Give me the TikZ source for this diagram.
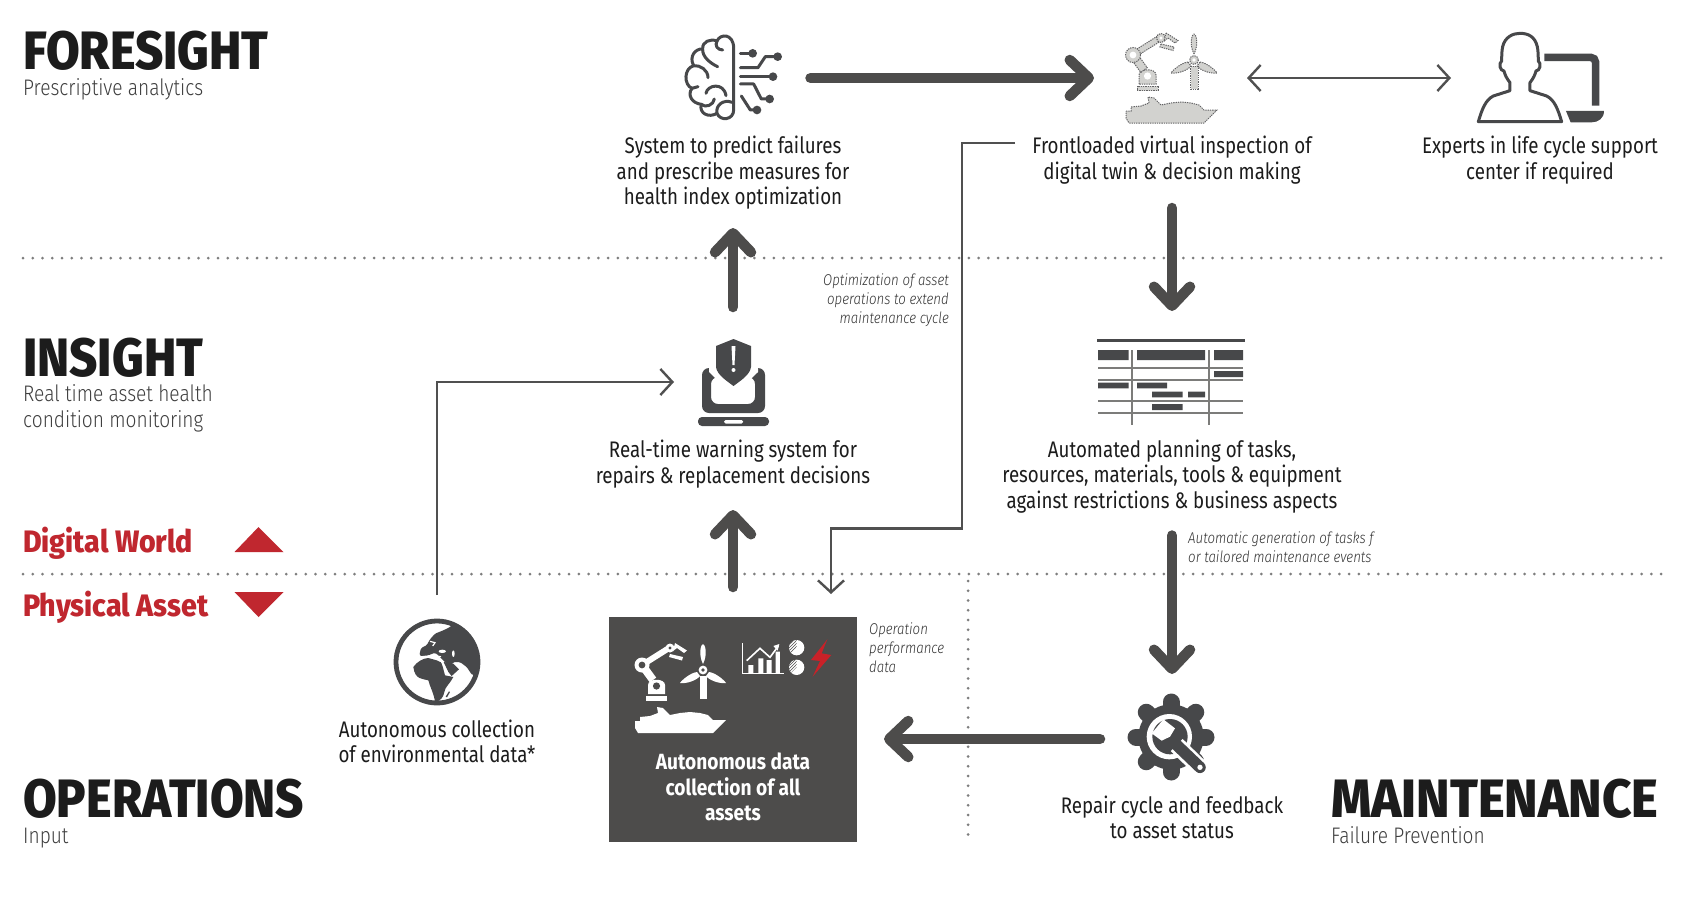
\documentclass[tikz,border=0pt]{standalone}
\usepackage{fontspec}
\setmainfont[FakeStretch=0.833]{Fira Sans}
\newfontfamily\lightface[FakeStretch=0.85,ItalicFont={Fira Sans Light Italic}]{Fira Sans Light}
\newfontfamily\headface[FakeStretch=0.905]{Fira Sans ExtraBold}
\newfontfamily\wideheadface[FakeStretch=0.945]{Fira Sans ExtraBold}
\newfontfamily\worldface[FakeStretch=0.92]{Fira Sans ExtraBold}
\newfontfamily\boxface[FakeStretch=0.87]{Fira Sans Bold}
\usetikzlibrary{arrows.meta,patterns}
\definecolor{arrowgrey}{HTML}{4D4C4B}
\definecolor{thingrey}{HTML}{505050}
\definecolor{icongrey}{HTML}{47484A}
\definecolor{boxgrey}{HTML}{4D4C4B}
\definecolor{dotgrey}{HTML}{7E7E7E}
\definecolor{ruby}{HTML}{C0272F}
\definecolor{inktext}{HTML}{1C1C1C}
\definecolor{twinfill}{HTML}{D2D2CF}
\definecolor{gridgrey}{HTML}{7C7C7A}
\tikzset{
  holder/.style n args={2}{minimum width=#1,minimum height=#2,inner sep=0pt,outer sep=0pt},
  dotrule/.style={dotgrey,line width=3pt,line cap=round,dash pattern=on 0pt off 9.75pt},
  bigarrow/.style={arrowgrey,line width=10.5pt,line cap=round,-{Straight Barb[round,length=19pt,width=36pt]}},
  thinarrow/.style={thingrey,line width=2.4pt,-{Straight Barb[length=12pt,width=26pt]}},
  thinboth/.style={thingrey,line width=2.4pt,{Straight Barb[length=12pt,width=26pt]}-{Straight Barb[length=12pt,width=26pt]}},
  body/.style={text=inktext,align=center,font=\fontsize{22.5}{25.6}\selectfont},
  head/.style={text=inktext,anchor=base west,inner sep=0pt,font=\headface\fontsize{54}{54}\selectfont},
  sub/.style={text=inktext!85,anchor=base west,inner sep=0pt,align=left,font=\lightface\fontsize{22.5}{26}\selectfont},
  worldlabel/.style={text=ruby,anchor=base west,inner sep=0pt,font=\worldface\fontsize{31}{31}\selectfont},
  note/.style={text=inktext!90,inner sep=0pt,font=\lightface\itshape\fontsize{15.6}{19}\selectfont},
  glyph/.style={icongrey,line width=3pt,line cap=round,line join=round},
  whitepart/.style={fill=white,draw=none},
  twinpart/.style={fill=twinfill,draw=icongrey!85,line width=1pt,dash pattern=on 1.3pt off 1pt},
}
\newcommand{\assetgroup}[4]{%
\begin{scope}[shift={(#1,#2)},every path/.style={#3}]
  % robot
  \path (11,53) rectangle (32,57.5);
  \path (13,51) -- (13,42) .. controls (13,35) and (30,35) .. (30,42) -- (30,51) -- cycle;
  \path (10.2,19.6) -- (21.2,34.6) -- (14.8,39.4) -- (3.8,24.4) -- cycle;
  \path (8.6,24.5) -- (35.6,7.5) -- (32.4,2.5) -- (5.4,19.5) -- cycle;
  \path (7,22) circle (7.5);
  \path (35,5) circle (4.5);
  \path (40,0) -- (52,7.5) -- (49,10) -- (42,5) -- (38,8) -- cycle;
  \path (35,11) -- (48,14) -- (47,17.5) -- (34,14) -- cycle;
  \path[fill=#4,draw=none] (21.5,43) circle (3.6);
  \path[fill=#4,draw=none] (7,22) circle (3.4);
  \path[fill=#4,draw=none] (35,5) circle (1.7);
  % turbine
  \path (68,21) .. controls (63,11) and (66,1) .. (68,1) .. controls (70,1) and (73,11) .. (68,21) -- cycle;
  \path (62,29) .. controls (55,30) and (47,37) .. (45,40) .. controls (52,41) and (62,37) .. (65,33) -- cycle;
  \path (74,29) .. controls (81,30) and (89,37) .. (91,40) .. controls (84,41) and (74,37) .. (71,33) -- cycle;
  \path (64.5,33) rectangle (72,56);
  \path (68,27) circle (4.4);
  \path[fill=#4,draw=none] (68,27) circle (1.8);
  % ship
  \path (0,78) -- (5,78) -- (5,74) -- (15,73) -- (23,70) -- (22,64) -- (28,65) -- (35,72) -- (45,70) -- (55,69) -- (65,70) -- (73,72) -- (78,77) -- (91,77) -- (78,90) -- (3,90) -- (0,85) -- cycle;
\end{scope}}
\begin{document}
\begin{tikzpicture}[x=1pt,y=-1pt]
\useasboundingbox (0,0) rectangle (1696,918);
\fill[white] (0,0) rectangle (1696,918);

% rules
\draw[dotrule] (23,258) -- (1665,258);
\draw[dotrule] (23,574) -- (1665,574);
\draw[dotrule] (968,581) -- (968,842);

% anchor holders for icons and captions
\node[holder={155}{90}] (brain) at (733,78) {};
\node[holder={156}{90}] (twin) at (1172,78) {};
\node[holder={180}{90}] (expert) at (1541,78) {};
\node[holder={118}{150}] (warn) at (733,382) {};
\node[holder={150}{142}] (gantt) at (1172,382) {};
\node[holder={144}{130}] (gear) at (1172,739) {};
\node[holder={100}{134}] (globe) at (437,662) {};

% captions
\node[body,holder={240}{110}] (systxt) at (733,173) {System to predict failures\\and prescribe measures for\\health index optimization};
\node[body,holder={314}{96}] (fronttxt) at (1172,160) {Frontloaded virtual inspection of\\digital twin \& decision making};
\node[body] (exptxt) at (1540,160) {Experts in life cycle support\\center if required};
\node[body,holder={280}{92}] (warntxt) at (733,464) {Real-time warning system for\\repairs \& replacement decisions};
\node[body,holder={350}{118}] (autotxt) at (1172,476.5) {Automated planning of tasks,\\resources, materials, tools \& equipment\\against restrictions \& business aspects};
\node[body] (envtxt) at (437,741.5) {Autonomous collection\\of environmental data*};
\node[body] (reptxt) at (1172,817.5) {Repair cycle and feedback\\to asset status};

% headings
\node[head] (hfore) at (23,69) {FORESIGHT};
\node[sub] (sfore) at (23,95) {Prescriptive analytics};
\node[head] (hins) at (23,376) {INSIGHT};
\node[sub] (sins) at (23,427.5) {Real time asset health\\condition monitoring};
\node[head] (hops) at (23,817.5) {OPERATIONS};
\node[sub] (sops) at (23,843) {Input};
\node[head,font=\wideheadface\fontsize{54}{54}\selectfont] (hmnt) at (1331,817.5) {MAINTENANCE};
\node[sub] (smnt) at (1331,843) {Failure Prevention};
\node[worldlabel] (dw) at (23,552) {Digital World};
\node[worldlabel] (pa) at (23,616) {Physical Asset};
\fill[ruby] (234.5,552) -- (258.5,527) -- (283.5,552) -- cycle;
\fill[ruby] (234.5,592) -- (258.5,617) -- (283.5,592) -- cycle;

% notes
\node[note,anchor=base east,align=right] (n1) at (949,323.5) {Optimization of asset\\operations to extend\\maintenance cycle};
\node[note,anchor=base west,align=left] (n2) at (869,672) {Operation\\performance\\data};
\node[note,anchor=base west,align=left] (n3) at (1188,562) {Automatic generation of tasks f\\or tailored maintenance events};

% dark box
\node[fill=boxgrey,holder={248}{225}] (assets) at (733,729.5) {};
\node[text=white,align=center,font=\boxface\fontsize{22}{25.6}\selectfont] (assetstxt) at (733,787) {Autonomous data\\collection of all\\assets};
\assetgroup{635}{643}{whitepart}{boxgrey}
% chart
\begin{scope}[shift={(600,600)},x=0.3333pt,y=-0.3333pt]
  \draw[white,line width=1.6pt] (428,130) -- (428,220) -- (552,220);
  \fill[white] (445,195) rectangle (460,220) (475,175) rectangle (490,220) (500,180) rectangle (515,220) (527,155) rectangle (540,220);
  \draw[white,line width=1.6pt] (440,182) -- (480,145) -- (510,172) -- (535,138);
  \fill[white] (538,132) -- (520,138) -- (533,152) -- cycle;
  \fill[white] (590,143) circle (23) (590,202) circle (23);
  \fill[pattern=north east lines,pattern color=boxgrey] (590,143) -- (590,120) arc[start angle=-90,end angle=-225,radius=23] -- cycle;
  \fill[pattern=north east lines,pattern color=boxgrey] (590,202) -- (590,179) arc[start angle=-90,end angle=-225,radius=23] -- cycle;
  \fill[ruby!85!red] (682,118) -- (633,180) -- (660,183) -- (638,230) -- (694,165) -- (665,160) -- cycle;
\end{scope}

% brain
\begin{scope}[shift={(682,25)},x=0.3333pt,y=-0.3333pt]
  \draw[glyph] (155,70) -- (155,255) .. controls (155,285) and (115,290) .. (105,265) .. controls (80,280) and (50,265) .. (58,238) .. controls (30,235) and (15,210) .. (30,190) .. controls (5,180) and (5,130) .. (35,122) .. controls (20,95) and (40,70) .. (62,72) .. controls (60,50) and (85,40) .. (105,48) .. controls (115,25) and (155,25) .. (155,70);
  \draw[glyph] (105,48) .. controls (98,60) and (105,75) .. (122,75);
  \draw[glyph] (62,72) .. controls (60,95) and (85,115) .. (107,125);
  \draw[glyph] (35,122) .. controls (55,120) and (78,135) .. (78,158);
  \draw[glyph] (30,190) -- (48,185);
  \draw[glyph] (72,205) .. controls (75,180) and (125,170) .. (132,212);
  \draw[glyph] (58,238) .. controls (70,250) and (95,240) .. (97,222);
  \draw[glyph] (105,265) .. controls (100,240) and (125,222) .. (150,232);
  \draw[glyph] (175,85) -- (212,85);
  \draw[glyph] (175,128) -- (228,128) -- (250,95) -- (287,95);
  \draw[glyph] (175,155) -- (272,155);
  \draw[glyph] (175,177) -- (215,177) -- (238,222) -- (262,222);
  \draw[glyph] (178,213) -- (205,255) -- (225,255);
  \fill[icongrey] (212,85) circle (13) (287,95) circle (13) (273,155) circle (13) (263,222) circle (13) (225,255) circle (13);
\end{scope}

% digital twin
\assetgroup{1126}{33}{twinpart}{white}

% expert
\begin{scope}[shift={(1200,0)},x=0.3333pt,y=-0.3333pt]
  \draw[glyph,line width=3pt] (835,365) .. controls (847,325) and (857,300) .. (880,288) -- (930,272) -- (930,248) .. controls (920,235) and (915,225) .. (912,213) .. controls (900,213) and (895,190) .. (905,183) .. controls (905,183) and (905,150) .. (908,140) .. controls (915,110) and (940,100) .. (960,100) .. controls (985,100) and (1005,110) .. (1012,140) .. controls (1015,150) and (1015,183) .. (1015,183) .. controls (1025,190) and (1020,213) .. (1008,213) .. controls (1005,225) and (1000,235) .. (990,248) -- (990,272) -- (1040,288) .. controls (1063,300) and (1073,325) .. (1085,365) -- cycle;
  \draw[icongrey,line width=7.6pt,rounded corners=5pt] (1033,172) -- (1187,172) -- (1187,317);
  \fill[icongrey] (1098,333) -- (1212,333) .. controls (1212,355) and (1195,367) .. (1175,367) -- (1112,367) -- cycle;
\end{scope}

% warning laptop
\fill[icongrey,rounded corners=7pt,even odd rule] (702,368) rectangle (765,413) (711,377) rectangle (755,404);
\fill[white] (709,352) -- (758,352) -- (758,372) -- (733.5,396) -- (709,372) -- cycle;
\fill[icongrey] (733.5,339) -- (751,346) -- (751,367) .. controls (750,375) and (740,381) .. (733.5,386) .. controls (727,381) and (717,375) .. (716,367) -- (716,346) -- cycle;
\fill[white] (731.5,346) -- (735.5,346) -- (734.5,365) -- (732.5,365) -- cycle;
\fill[white] (733.5,370) circle (2);
\fill[icongrey,rounded corners=4pt] (698,417) rectangle (769,426);
\fill[white,rounded corners=1.5pt] (724,420) rectangle (743,423.5);

% gantt
\draw[icongrey,line width=3pt] (1097,340) -- (1244.5,340);
\foreach \yy in {368,380,401,413}{\draw[gridgrey,line width=2pt] (1098,\yy) -- (1243,\yy);}
\draw[gridgrey,line width=2pt] (1132,350) -- (1132,425) (1209,350) -- (1209,425);
\fill[icongrey] (1098,350) rectangle (1128.5,360) (1137,350) rectangle (1205,360) (1214,350) rectangle (1243,360)
 (1214,371) rectangle (1243,377)
 (1098,382.7) rectangle (1128.5,388.3) (1137,382.7) rectangle (1167,388.3)
 (1152,391.7) rectangle (1182.5,397.3) (1188,391.7) rectangle (1205,397.3)
 (1152,404) rectangle (1182.5,410);

% globe
\begin{scope}[shift={(385,612)},x=0.3333pt,y=-0.3333pt]
  \draw[icongrey,line width=4.8pt] (156,150) circle (123);
  \begin{scope}
  \clip (156,150) circle (118);
  \fill[icongrey,rounded corners=1.5pt] (103,130) -- (108,108) -- (125,100) -- (135,82) -- (150,65) -- (175,55) -- (195,45) -- (215,28) -- (290,60) -- (290,185) -- (262,190) -- (245,165) -- (225,150) -- (205,150) -- (195,165) -- (175,145) -- (160,130) -- (150,122) -- (130,130) -- (115,135) -- cycle;
  \fill[icongrey] (85,165) .. controls (95,150) and (115,138) .. (130,138) -- (155,145) -- (170,152) -- (180,190) -- (205,195) .. controls (195,215) and (180,225) .. (178,240) .. controls (176,255) and (165,270) .. (150,268) .. controls (145,240) and (135,225) .. (130,205) .. controls (115,200) and (90,205) .. (85,165) -- cycle;
  \fill[icongrey] (176,150) -- (205,155) -- (222,172) -- (200,192) -- (190,180) -- cycle;
  \fill[icongrey] (192,238) -- (195,240) -- (186,256) -- (182,254) -- cycle;
  \draw[white,line width=1.2pt] (100,136) .. controls (120,132) and (140,130) .. (168,134);
  \draw[white,line width=1.4pt] (170,150) -- (192,190);
  \draw[white,line width=1.2pt] (135,88) -- (150,92) -- (143,102);
  \fill[white] (172,118) ellipse (11 and 5);
  \fill[white] (205,125) ellipse (4 and 10);
  \fill[white] (112,100) circle (4);
  \end{scope}
\end{scope}

% gear
\begin{scope}[shift={(1120,690)},x=0.3333pt,y=-0.3333pt]
  \fill[icongrey] (153,141) circle (98);
  \foreach \aa in {0,45,...,315}{\draw[icongrey,line width=17pt,line cap=round] (153,141) -- ++(\aa:105);}
  \fill[white] (148,140) circle (68);
  \fill[icongrey] (150,140) circle (53);
  \fill[white] (130,88) -- (95,130) -- (125,152) -- (150,140) -- (165,115) -- cycle;
  \draw[white,line width=17pt] (170,165) -- (242,235);
  \draw[icongrey,line width=11.5pt,line cap=round] (170,165) -- (240,232);
  \fill[white] (240,232) circle (8);
\end{scope}

% connectors
\draw[bigarrow] (brain.east) -- (twin.west);
\draw[thinboth] ([xshift=-3pt]twin.east) -- (expert.west);
\draw[bigarrow] (fronttxt.south) -- (gantt.north);
\draw[bigarrow] (warn.north) -- (systxt.south);
\draw[bigarrow] ([yshift=30pt]assets.north) -- (warntxt.south);
\draw[bigarrow] (autotxt.south) -- (gear.north);
\draw[bigarrow] (gear.west) -- ([xshift=27pt,yshift=-9.5pt]assets.east);
\draw[thinarrow] ([yshift=17pt]fronttxt.west) -| (962,528.5) -| ([xshift=98pt,yshift=23pt]assets.north);
\draw[thinarrow] (globe.north) |- (warn.west);
\end{tikzpicture}
\end{document}
